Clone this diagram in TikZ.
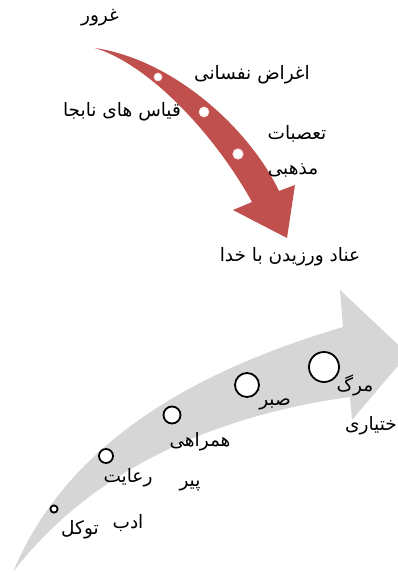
\documentclass[tikz,border=0pt]{standalone}
\usepackage{fontspec}
\TeXXeTstate=1
\newfontfamily\arabicfont[Script=Arabic]{DejaVu Sans}
\definecolor{redarrow}{HTML}{C0504D}
\definecolor{grayarrow}{HTML}{D6D6D6}
\tikzset{
  lbl/.style={font=\arabicfont\fontsize{18.5}{22}\selectfont, inner sep=0pt, text=black},
  reddot/.style={circle, fill=white, draw=red!15, line width=0.6pt, inner sep=0pt},
  ring/.style={circle, fill=white, draw=black, line width=1.8pt, inner sep=0pt}
}
\begin{document}
\begin{tikzpicture}[x=1pt,y=-1pt]
\useasboundingbox (0,0) rectangle (397,574);
% red arrow
\fill[redarrow] (95,48) .. controls (175,60) and (250,130) .. (279,191)
  -- (295,185) -- (287,238) -- (233,210) -- (252,202)
  .. controls (215,135) and (150,65) .. (95,48) -- cycle;
\node[reddot, minimum size=8pt] (d1) at (158,77) {};
\node[reddot, minimum size=10pt] (d2) at (204,112) {};
\node[reddot, minimum size=10.5pt] (d3) at (238,154) {};
% gray arrow
\fill[grayarrow] (13,572) .. controls (73,428) and (222,363) .. (343,327)
  -- (340,290) -- (408,354) -- (352,420) -- (350,397)
  .. controls (218,415) and (93,468) .. (13,572) -- cycle;
\node[ring, minimum size=7.2pt] (c1) at (54,509) {};
\node[ring, minimum size=14pt] (c2) at (106,456) {};
\node[ring, minimum size=17pt] (c3) at (172,415) {};
\node[ring, minimum size=24pt] (c4) at (247,385) {};
\node[ring, minimum size=30pt] (c5) at (324,367) {};
% top labels
\node[lbl] (t1) at (100,18) {\beginR غرور\endR};
\node[lbl] (t2) at (252,75) {\beginR اغراض نفسانی\endR};
\node[lbl] (t3) at (122,112) {\beginR قیاس های نابجا\endR};
\node[lbl] (t4a) at (297,134) {\beginR تعصبات\endR};
\node[lbl] (t4b) at (293,170) {\beginR مذهبی\endR};
\node[lbl] (t5) at (290,257) {\beginR عناد ورزیدن با خدا\endR};
% bottom labels
\node[lbl] (b1) at (80,530) {\beginR توکل\endR};
\node[lbl] (b2a) at (128,478) {\beginR رعایت\endR};
\node[lbl] (b2b) at (128,523) {\beginR ادب\endR};
\node[lbl] (b3a) at (200,442) {\beginR همراهی\endR};
\node[lbl] (b3b) at (190,486) {\beginR پیر\endR};
\node[lbl] (b4) at (275,404) {\beginR صبر\endR};
\node[lbl] (b5a) at (355,385) {\beginR مرگ\endR};
\node[lbl, anchor=east] (b5b) at (397,426) {\beginR ختیاری\endR};
\end{tikzpicture}
\end{document}
